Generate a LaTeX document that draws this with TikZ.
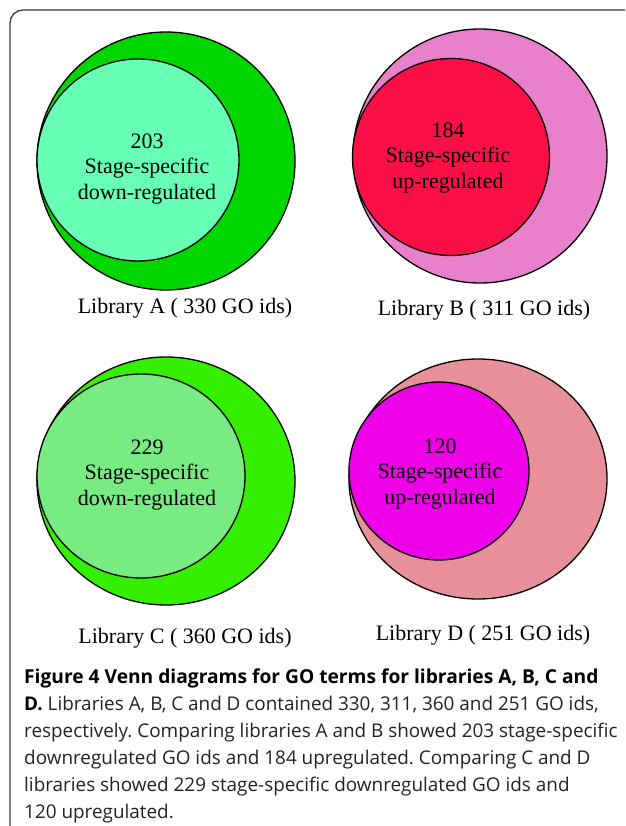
\documentclass[tikz,border=0pt]{standalone}
\usepackage{fontspec}
\setmainfont{Liberation Serif}
\newfontfamily\capfont{Open Sans}
\frenchspacing
\definecolor{Aout}{RGB}{0,214,0}
\definecolor{Ain}{RGB}{102,255,180}
\definecolor{Bout}{RGB}{232,128,204}
\definecolor{Bin}{RGB}{250,16,70}
\definecolor{Cout}{RGB}{52,240,0}
\definecolor{Cin}{RGB}{120,235,130}
\definecolor{Dout}{RGB}{232,144,154}
\definecolor{Din}{RGB}{238,0,232}
\definecolor{framec}{RGB}{60,60,60}
\definecolor{captext}{RGB}{35,35,35}
\tikzset{
  venn/.style={draw=black, line width=1.3pt},
  inlabel/.style={align=center, inner sep=0pt, font=\fontsize{22}{25.5}\selectfont},
  liblabel/.style={anchor=base, inner sep=0pt, font=\fontsize{22}{26}\selectfont},
  capline/.style={anchor=base west, inner sep=0pt, text=captext, font=\capfont\fontsize{18.9}{26}\selectfont},
  framebox/.style={draw=framec, line width=1.3pt, rounded corners=13pt}
}
\begin{document}
\begin{tikzpicture}[x=1pt,y=-1pt]
\useasboundingbox (0,0) rectangle (625,826);
\clip (0,0) rectangle (625,826);
\fill[white] (0,0) rectangle (625,826);
\draw[framebox] (10,900) |- (700,10);
% Library A
\draw[venn, fill=Aout] (166,161) circle[radius=129pt];
\draw[venn, fill=Ain] (138,160) circle[radius=101pt];
\node[inlabel] (tA) at (147,169) {203\\Stage-specific\\down-regulated};
\node[liblabel] (lA) at (185,313) {Library A ( 330 GO ids)};
% Library B
\draw[venn, fill=Bout] (480,156) circle[radius=127pt];
\draw[venn, fill=Bin] (451,157) circle[radius=98.5pt];
\node[inlabel] (tB) at (448,158) {184\\Stage-specific\\up-regulated};
\node[liblabel] (lB) at (484,315) {Library B ( 311 GO ids)};
% Library C
\draw[venn, fill=Cout] (166,481) ellipse[x radius=129pt, y radius=124pt];
\draw[venn, fill=Cin] (141,476) ellipse[x radius=104pt, y radius=102pt];
\node[inlabel] (tC) at (147,475) {229\\Stage-specific\\down-regulated};
\node[liblabel] (lC) at (185,643) {Library C ( 360 GO ids)};
% Library D
\draw[venn, fill=Dout] (478,479) ellipse[x radius=129pt, y radius=120pt];
\draw[venn, fill=Din] (439,471) ellipse[x radius=90pt, y radius=89pt];
\node[inlabel] (tD) at (440,474) {120\\Stage-specific\\up-regulated};
\node[liblabel] (lD) at (483,640) {Library D ( 251 GO ids)};
% Caption
\node[capline, text=black] (c1) at (24,683) {\fontsize{19.2}{26}\selectfont\bfseries Figure 4 Venn diagrams for GO terms for libraries A, B, C and};
\node[capline] (c2) at (24,710) {\textcolor{black}{\textbf{D.}} Libraries A, B, C and D contained 330, 311, 360 and 251 GO ids,};
\node[capline] (c3) at (24,737) {respectively. Comparing libraries A and B showed 203 stage-specific};
\node[capline] (c4) at (24,764) {downregulated GO ids and 184 upregulated. Comparing C and D};
\node[capline] (c5) at (24,791) {libraries showed 229 stage-specific downregulated GO ids and};
\node[capline] (c6) at (24,818) {120 upregulated.};
\end{tikzpicture}
\end{document}
